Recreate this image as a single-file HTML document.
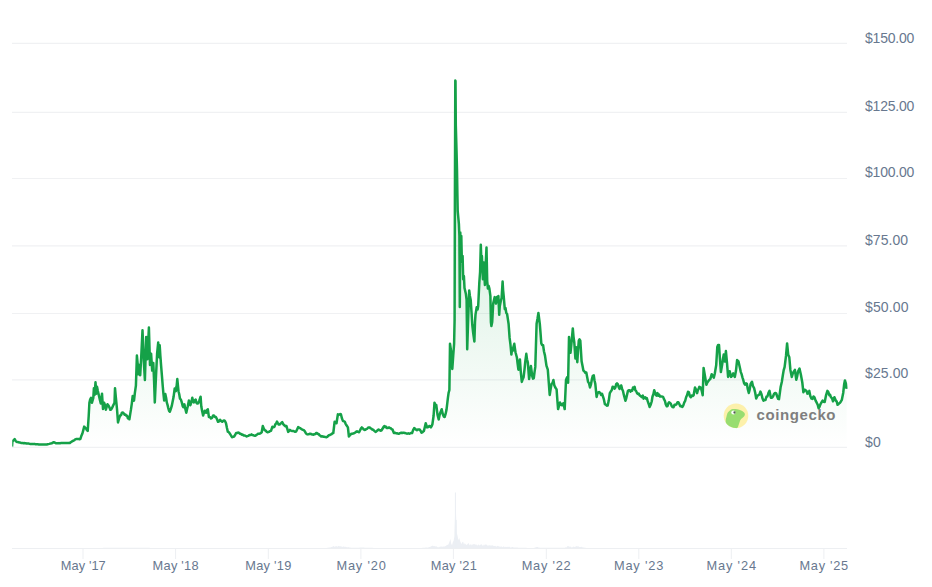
<!DOCTYPE html>
<html><head><meta charset="utf-8">
<style>
html,body{margin:0;padding:0;background:#fff;}
body{width:932px;height:587px;position:relative;overflow:hidden;font-family:"Liberation Sans",sans-serif;}
svg{position:absolute;left:0;top:0;}
.yl{position:absolute;left:865px;font-size:14px;line-height:16px;color:#68788f;white-space:nowrap;}
.xl{position:absolute;top:558px;width:80px;text-align:center;font-size:12.8px;line-height:16px;color:#68788f;white-space:nowrap;}
.cg{position:absolute;left:756.5px;top:405.0px;font-size:15px;line-height:20px;font-weight:bold;color:#7f7f7f;letter-spacing:0.6px;}
</style></head><body>
<svg width="932" height="587" viewBox="0 0 932 587">
<defs>
<linearGradient id="g" x1="0" y1="0" x2="0" y2="1" gradientUnits="userSpaceOnUse" >
<stop offset="0" stop-color="#16a34a" stop-opacity="0.0"/>
</linearGradient>
<linearGradient id="ga" gradientUnits="userSpaceOnUse" x1="0" y1="80" x2="0" y2="447.4">
<stop offset="0" stop-color="#16a34a" stop-opacity="0.26"/>
<stop offset="0.6" stop-color="#16a34a" stop-opacity="0.105"/>
<stop offset="1" stop-color="#16a34a" stop-opacity="0"/>
</linearGradient>
<clipPath id="cp"><rect x="12.2" y="0" width="835.5" height="460"/></clipPath>
</defs>
<g stroke="#f0f1f3" stroke-width="1.1">
<line x1="12" x2="847" y1="43.4" y2="43.4"/><line x1="12" x2="847" y1="112.4" y2="112.4"/><line x1="12" x2="847" y1="178.5" y2="178.5"/><line x1="12" x2="847" y1="245.9" y2="245.9"/><line x1="12" x2="847" y1="313.5" y2="313.5"/><line x1="12" x2="847" y1="379.9" y2="379.9"/><line x1="12" x2="847" y1="447.4" y2="447.4"/>
</g>
<path d="M12.0,446.6 L12.4,441.5 L13.2,440.7 L13.9,439.9 L14.7,439.1 L16.0,441.5 L16.8,441.9 L17.7,442.0 L18.5,442.2 L19.3,442.5 L20.2,442.6 L21.0,442.9 L21.8,443.0 L22.6,443.1 L23.3,443.2 L24.1,443.1 L24.9,443.2 L25.7,443.3 L26.4,443.5 L27.2,443.6 L28.0,443.6 L28.8,443.6 L29.5,443.8 L30.3,443.9 L31.0,443.9 L31.8,443.9 L32.5,443.9 L33.3,443.9 L34.0,444.1 L34.8,444.1 L35.5,444.2 L36.3,444.3 L37.1,444.3 L37.9,444.3 L38.7,444.4 L39.5,444.4 L40.3,444.5 L41.1,444.5 L42.0,444.5 L42.8,444.5 L43.6,444.6 L44.4,444.5 L45.2,444.5 L46.0,444.6 L46.8,444.5 L47.6,444.3 L48.4,444.1 L49.3,443.9 L50.1,443.6 L50.9,443.4 L51.7,443.3 L52.8,442.7 L53.8,442.2 L54.8,442.6 L55.9,443.3 L56.7,443.3 L57.4,443.2 L58.2,443.3 L59.0,443.1 L59.7,443.3 L60.5,443.2 L61.3,442.9 L62.0,443.0 L62.8,443.0 L63.6,443.1 L64.4,443.0 L65.1,443.1 L65.9,443.0 L66.7,442.9 L67.5,443.0 L68.2,443.1 L69.0,442.9 L69.8,443.0 L70.7,442.2 L71.7,441.6 L72.6,441.0 L73.5,440.7 L74.3,440.2 L75.2,439.4 L76.1,439.1 L76.9,439.0 L77.8,438.9 L78.6,438.9 L79.5,439.2 L80.3,439.1 L81.3,436.1 L82.4,433.5 L83.3,430.1 L84.2,426.6 L85.1,427.6 L86.0,428.4 L86.8,430.0 L87.7,430.8 L88.7,416.0 L89.4,402.8 L90.2,399.3 L91.0,397.9 L91.9,402.8 L93.3,398.0 L93.9,388.2 L94.6,395.0 L95.5,382.3 L96.4,393.7 L97.0,386.8 L97.8,390.7 L98.5,393.7 L99.9,400.0 L100.8,403.5 L102.0,393.7 L103.0,409.0 L104.2,402.8 L105.1,405.4 L105.9,409.8 L106.7,406.8 L107.5,404.2 L108.4,405.4 L109.4,407.4 L110.3,409.8 L111.2,409.5 L112.2,407.7 L113.1,405.6 L114.5,402.8 L115.0,388.2 L115.9,397.9 L117.0,409.0 L118.0,422.4 L119.4,417.5 L120.2,415.5 L121.1,415.1 L121.9,412.7 L122.8,412.6 L123.8,413.4 L124.7,414.8 L125.6,414.6 L126.4,415.8 L127.1,415.7 L127.9,418.3 L128.6,417.9 L129.4,419.3 L130.2,414.1 L130.9,409.9 L131.8,403.6 L132.7,395.9 L134.0,400.6 L134.9,392.6 L135.9,385.6 L136.9,355.6 L137.7,364.3 L138.4,374.3 L139.3,365.0 L140.2,375.3 L141.2,357.5 L142.5,330.3 L143.8,361.2 L144.9,380.0 L146.2,336.9 L147.4,359.3 L148.2,342.0 L148.9,327.5 L150.0,365.0 L151.1,353.7 L152.2,370.6 L153.3,363.1 L154.1,381.4 L154.8,402.4 L156.0,376.2 L157.1,353.7 L158.2,342.5 L159.3,357.5 L159.7,345.3 L160.4,356.3 L161.2,366.8 L161.9,375.4 L162.7,385.6 L163.4,393.4 L164.2,400.6 L165.3,394.0 L166.1,397.8 L166.8,402.4 L167.6,405.1 L168.3,408.1 L169.1,411.0 L169.8,411.8 L170.8,409.0 L171.7,406.2 L172.6,401.7 L173.6,396.8 L174.7,388.4 L175.8,391.2 L176.6,386.3 L177.3,379.0 L178.5,391.2 L179.2,394.0 L180.0,398.7 L180.9,399.6 L181.8,402.4 L182.6,405.8 L183.3,407.1 L184.4,404.3 L185.4,409.2 L186.3,412.7 L187.1,408.9 L187.8,406.2 L188.9,400.6 L189.7,402.1 L190.4,405.2 L191.4,402.2 L192.3,397.8 L193.1,401.3 L193.8,402.4 L194.8,400.2 L195.7,399.6 L196.4,402.8 L197.2,403.5 L198.2,403.2 L199.2,400.9 L200.6,396.7 L201.3,406.5 L202.2,411.3 L203.1,415.6 L203.9,413.0 L204.8,410.7 L206.2,412.8 L207.0,410.2 L207.8,409.3 L208.9,417.0 L209.9,416.9 L211.0,418.4 L212.1,417.8 L213.1,415.6 L214.0,415.6 L215.0,416.9 L215.9,417.0 L216.9,419.0 L218.0,421.8 L219.1,421.3 L220.1,419.8 L221.1,421.0 L222.2,421.8 L223.2,420.8 L224.3,420.5 L225.2,421.4 L226.0,423.2 L226.9,427.7 L227.8,431.6 L228.9,432.3 L229.9,433.7 L230.9,435.3 L232.0,437.2 L233.1,436.9 L234.1,436.5 L235.1,435.0 L236.1,433.0 L237.0,433.0 L238.0,432.6 L238.9,432.7 L239.8,433.7 L240.8,433.8 L241.7,434.7 L242.5,434.6 L243.3,435.1 L244.1,435.6 L245.0,435.6 L245.8,436.0 L246.6,436.5 L247.4,436.1 L248.2,435.9 L249.1,435.2 L249.9,435.0 L250.7,435.0 L251.5,434.4 L252.4,435.1 L253.2,435.2 L254.1,435.6 L255.0,435.8 L255.8,435.4 L256.7,434.7 L257.5,434.2 L258.4,433.7 L259.2,433.7 L260.0,433.6 L260.9,432.9 L261.7,432.3 L262.8,426.0 L263.8,428.6 L264.7,430.2 L265.6,430.4 L266.6,431.7 L267.5,432.3 L268.4,431.9 L269.2,431.8 L270.1,431.1 L271.0,430.9 L272.4,426.7 L273.4,427.3 L274.5,426.7 L275.3,424.4 L276.2,423.4 L277.0,421.6 L277.9,423.4 L278.7,424.6 L279.6,424.5 L280.4,423.7 L281.3,423.0 L282.2,422.1 L283.2,424.1 L284.3,425.3 L285.4,426.2 L286.4,426.0 L287.3,428.8 L288.2,431.9 L289.0,431.1 L289.9,429.9 L290.8,430.6 L291.7,430.9 L292.6,430.9 L293.5,431.0 L294.4,431.5 L295.2,431.8 L296.1,431.6 L297.1,429.4 L298.2,427.1 L299.1,427.8 L300.1,428.1 L301.0,428.8 L301.9,429.4 L302.9,429.8 L303.8,430.2 L304.7,431.1 L305.7,432.9 L306.6,434.1 L307.5,434.4 L308.4,434.2 L309.2,434.0 L310.1,433.7 L311.0,433.9 L311.9,434.4 L312.7,434.5 L313.6,434.7 L314.5,434.2 L315.3,434.1 L316.1,433.1 L317.0,433.0 L317.8,433.9 L318.7,434.0 L319.5,435.2 L320.4,435.8 L321.2,436.5 L322.0,436.3 L322.8,436.5 L323.7,436.8 L324.6,436.8 L325.4,437.1 L326.3,437.2 L327.2,436.9 L328.1,436.0 L328.9,435.3 L329.8,435.1 L330.7,434.4 L331.6,434.2 L332.4,433.3 L333.3,433.0 L334.6,421.8 L335.6,422.0 L336.5,423.2 L337.9,414.2 L338.6,415.0 L339.4,414.5 L340.1,414.1 L340.9,414.2 L341.9,418.3 L343.0,421.1 L343.9,421.2 L344.8,421.8 L345.6,423.8 L346.5,425.3 L347.9,427.4 L348.9,436.5 L349.7,435.4 L350.6,434.6 L351.4,433.7 L352.3,433.7 L353.1,433.6 L354.0,433.3 L354.9,432.7 L355.9,431.9 L357.0,431.3 L358.1,431.9 L359.1,432.3 L360.0,430.5 L360.9,428.6 L361.8,427.4 L362.7,428.2 L363.7,429.4 L364.6,429.9 L365.4,429.8 L366.3,429.1 L367.1,428.9 L368.0,427.6 L368.8,427.4 L369.7,427.5 L370.6,428.4 L371.4,428.7 L372.3,429.5 L373.2,429.8 L374.1,430.6 L374.9,431.4 L375.8,431.9 L376.7,431.1 L377.7,430.1 L378.6,429.5 L379.5,430.2 L380.5,430.7 L381.4,430.5 L382.2,429.3 L383.0,427.8 L383.8,426.6 L384.6,426.0 L385.4,427.2 L386.2,426.8 L387.0,428.1 L388.0,428.0 L389.0,427.4 L389.9,428.0 L390.8,428.2 L391.6,429.3 L392.5,429.5 L393.9,433.0 L394.7,432.7 L395.6,433.0 L396.4,433.4 L397.3,433.2 L398.1,433.7 L398.9,433.8 L399.7,433.2 L400.5,433.0 L401.3,432.7 L402.1,433.1 L402.9,432.8 L403.7,432.7 L404.5,433.0 L405.3,433.1 L406.1,433.4 L406.9,433.7 L407.7,433.6 L408.5,433.3 L409.3,433.7 L410.2,433.4 L411.2,433.0 L412.1,433.0 L413.1,430.1 L414.2,428.1 L415.1,428.8 L416.0,429.7 L416.9,430.2 L417.8,429.6 L418.8,429.5 L419.7,429.5 L420.6,430.9 L421.5,432.7 L422.3,432.3 L423.1,431.5 L423.9,430.9 L424.8,427.2 L425.7,423.2 L427.1,427.4 L427.9,427.2 L428.7,426.3 L429.5,426.0 L430.9,427.4 L431.6,426.2 L432.4,424.2 L433.6,415.8 L434.5,402.7 L435.4,405.0 L436.3,405.1 L437.5,414.6 L438.7,419.4 L439.6,415.0 L440.5,412.2 L441.7,409.2 L442.9,414.6 L443.8,416.6 L444.7,417.0 L445.6,413.9 L446.5,409.8 L447.9,397.9 L448.6,392.8 L449.4,390.0 L450.0,343.8 L451.2,352.0 L452.3,368.9 L453.2,356.0 L454.1,343.8 L454.6,320.0 L454.9,200.0 L455.3,80.6 L455.5,81.0 L455.8,125.0 L456.5,150.0 L457.0,170.0 L457.4,195.0 L457.7,211.0 L458.9,224.0 L459.4,236.0 L459.6,270.0 L459.8,306.9 L460.3,232.5 L460.8,250.0 L461.3,236.0 L461.8,258.7 L462.3,262.0 L462.6,256.0 L463.2,279.3 L463.9,276.0 L464.5,288.0 L465.1,290.5 L465.9,294.0 L466.6,299.9 L467.2,349.2 L468.2,318.0 L469.2,290.5 L469.9,296.0 L470.7,299.9 L471.5,312.0 L472.3,325.0 L473.2,333.0 L474.4,341.5 L475.0,322.0 L475.5,314.6 L476.7,307.3 L477.6,309.5 L478.2,306.0 L479.3,283.0 L480.1,271.8 L480.8,244.7 L481.4,262.0 L481.9,256.0 L482.5,270.0 L482.9,279.3 L483.8,262.4 L484.4,276.0 L484.9,284.9 L485.5,268.0 L486.5,247.5 L487.2,281.1 L487.9,288.6 L488.7,286.0 L489.4,288.6 L490.4,296.1 L490.9,322.0 L491.4,326.1 L492.2,322.0 L493.2,303.6 L494.0,300.0 L494.7,297.1 L495.4,301.0 L496.0,303.6 L496.9,297.1 L497.7,300.0 L498.4,296.1 L499.2,314.8 L499.8,306.0 L500.3,303.6 L501.0,300.0 L501.6,298.0 L502.6,281.5 L503.1,290.0 L503.7,296.1 L504.8,309.2 L505.5,308.0 L506.3,313.0 L507.1,314.0 L507.8,318.6 L508.6,324.0 L509.6,337.9 L510.4,344.0 L511.4,354.6 L512.0,349.0 L512.6,351.0 L513.4,347.0 L514.3,343.8 L515.0,349.0 L515.5,352.2 L516.9,357.5 L517.6,363.5 L518.4,369.7 L519.1,365.0 L519.9,359.4 L520.8,372.0 L521.8,381.9 L522.7,379.2 L523.6,377.2 L524.5,369.5 L525.3,361.3 L526.3,353.8 L527.0,359.2 L527.8,362.2 L529.1,379.1 L530.0,373.4 L530.9,365.9 L532.3,376.3 L533.0,378.6 L533.8,378.1 L534.5,372.4 L535.3,366.9 L536.6,323.8 L537.5,318.8 L538.4,312.9 L539.8,323.8 L540.5,332.7 L541.3,343.4 L542.2,345.1 L543.1,345.3 L544.0,351.5 L545.0,355.6 L545.8,361.2 L546.5,365.9 L547.8,369.7 L548.8,383.0 L549.7,395.0 L550.7,388.5 L551.6,383.8 L552.5,383.2 L553.4,380.0 L554.3,385.3 L555.3,387.5 L556.6,389.4 L557.4,400.6 L558.1,409.1 L559.0,405.9 L560.0,402.5 L561.0,404.7 L561.9,405.3 L562.6,403.9 L563.4,403.4 L564.7,409.1 L566.0,380.0 L567.1,377.2 L568.1,382.8 L569.0,336.9 L569.8,346.2 L570.5,352.8 L571.8,339.7 L572.8,328.4 L573.5,336.6 L574.3,342.5 L575.4,358.4 L576.1,347.2 L577.3,362.2 L578.0,350.9 L578.8,340.6 L579.5,339.3 L580.3,340.6 L581.6,361.3 L582.5,365.8 L583.4,370.6 L584.4,371.4 L585.3,372.7 L586.3,372.5 L587.2,377.2 L588.1,381.9 L589.0,383.2 L590.0,387.5 L591.0,384.3 L591.9,379.1 L592.8,375.8 L593.8,375.3 L594.5,380.5 L595.3,383.8 L596.6,396.9 L597.5,393.5 L598.4,392.2 L599.3,392.1 L600.3,393.1 L601.1,395.0 L602.0,393.8 L602.8,395.9 L603.8,399.1 L604.9,404.2 L605.8,404.7 L606.8,405.7 L607.7,405.6 L608.8,400.3 L609.8,393.1 L610.7,391.6 L611.7,390.3 L612.6,386.8 L613.5,387.0 L614.5,388.7 L615.4,387.5 L616.2,384.1 L617.0,383.3 L617.9,384.3 L618.7,387.1 L619.6,388.9 L620.4,386.5 L621.2,385.4 L622.1,388.9 L623.0,391.0 L623.8,394.7 L624.6,397.6 L625.4,400.8 L626.2,398.6 L627.1,394.5 L627.9,391.0 L628.8,390.2 L629.6,390.3 L630.5,391.6 L631.4,390.3 L632.2,390.7 L633.0,387.6 L633.8,388.8 L634.6,386.8 L635.4,390.4 L636.2,391.1 L637.0,393.1 L637.8,394.0 L638.7,393.6 L639.5,395.3 L640.4,395.9 L641.2,396.6 L642.0,397.1 L642.8,395.6 L643.6,398.6 L644.4,397.4 L645.2,397.3 L646.0,398.7 L646.8,398.0 L647.7,401.2 L648.7,404.0 L649.6,407.0 L650.7,404.7 L651.7,401.5 L652.5,396.5 L653.4,394.2 L654.2,390.3 L655.0,392.5 L655.9,395.2 L656.7,395.6 L657.5,393.1 L658.4,395.6 L659.2,394.7 L660.1,396.6 L661.2,396.5 L662.2,396.6 L663.1,396.9 L664.0,399.2 L664.9,400.8 L665.8,404.4 L666.8,406.3 L667.6,406.0 L668.3,403.5 L669.1,402.2 L670.0,402.9 L670.9,403.8 L671.7,406.1 L672.6,407.0 L673.5,407.3 L674.5,404.7 L675.4,404.9 L676.5,404.3 L677.5,402.2 L678.4,402.3 L679.4,404.2 L680.3,406.3 L681.3,406.0 L682.4,407.0 L683.3,405.4 L684.3,402.4 L685.2,400.8 L686.1,397.3 L687.1,395.1 L688.0,391.7 L688.9,392.3 L689.9,396.2 L690.8,397.3 L691.7,395.5 L692.7,395.9 L693.6,395.2 L695.0,387.5 L696.0,389.5 L697.1,393.1 L697.9,390.0 L698.6,389.0 L699.4,386.8 L700.8,387.5 L701.8,391.1 L702.7,395.2 L703.6,367.9 L705.0,376.3 L706.4,384.7 L707.3,382.6 L708.2,381.2 L709.2,379.9 L710.3,379.1 L711.7,374.2 L712.8,376.0 L713.8,377.7 L714.8,373.5 L716.2,365.1 L717.3,347.0 L718.1,344.9 L719.0,344.9 L719.8,356.8 L720.9,372.1 L722.2,364.4 L723.0,358.6 L723.7,354.6 L724.8,361.5 L725.9,351.1 L727.0,362.9 L728.1,376.9 L728.9,374.5 L729.7,371.3 L731.1,376.9 L732.2,375.6 L733.2,373.4 L734.0,375.2 L734.8,376.9 L736.0,370.6 L737.1,360.1 L738.5,361.5 L739.9,367.8 L740.8,372.1 L741.6,374.1 L742.4,377.3 L743.2,379.7 L744.1,383.3 L745.0,384.6 L746.0,383.4 L746.9,383.9 L747.8,389.2 L748.8,393.0 L749.7,389.4 L750.6,383.9 L752.0,381.8 L753.0,386.2 L754.1,388.1 L755.2,392.7 L756.2,398.5 L757.2,396.2 L758.3,395.1 L759.3,394.7 L760.4,391.6 L761.5,394.2 L762.5,398.5 L763.5,400.6 L764.6,399.9 L765.5,399.9 L766.5,396.5 L767.4,396.5 L768.5,392.9 L769.5,390.9 L770.9,397.8 L772.0,397.8 L773.0,396.5 L774.0,394.0 L775.1,393.0 L776.2,393.5 L777.2,396.5 L778.1,398.8 L779.0,399.2 L779.9,392.7 L780.7,386.7 L781.8,382.0 L782.8,375.5 L783.7,370.1 L784.6,367.1 L786.0,355.9 L787.1,343.4 L788.2,354.6 L789.3,357.3 L790.4,369.9 L791.8,376.9 L792.6,374.1 L793.5,372.0 L794.9,369.9 L796.3,379.7 L797.2,376.1 L798.1,371.3 L799.5,368.5 L800.9,374.8 L802.3,382.5 L803.4,392.3 L804.5,389.7 L805.5,390.2 L806.5,391.0 L807.5,393.7 L808.4,392.9 L809.3,390.9 L810.3,396.0 L811.4,398.5 L812.5,398.9 L813.5,396.5 L814.5,397.4 L815.6,400.6 L816.7,402.7 L817.7,404.8 L818.6,408.3 L819.5,406.8 L820.5,404.1 L821.5,402.4 L822.6,400.6 L823.7,401.8 L824.7,402.0 L826.1,395.1 L827.4,390.9 L828.3,392.0 L829.3,395.1 L830.1,394.8 L830.9,397.2 L832.0,398.1 L833.0,401.3 L834.4,397.2 L835.8,400.6 L836.7,401.5 L837.6,404.8 L838.4,404.2 L839.2,403.4 L840.0,402.7 L840.9,401.5 L841.8,399.9 L843.2,393.0 L844.2,383.9 L844.9,380.4 L846.0,383.9 L846.6,388.8 L846.6,447.4 L12.0,447.4 Z" fill="url(#ga)" stroke="none"/>
<path d="M12.0,446.6 L12.4,441.5 L13.2,440.7 L13.9,439.9 L14.7,439.1 L16.0,441.5 L16.8,441.9 L17.7,442.0 L18.5,442.2 L19.3,442.5 L20.2,442.6 L21.0,442.9 L21.8,443.0 L22.6,443.1 L23.3,443.2 L24.1,443.1 L24.9,443.2 L25.7,443.3 L26.4,443.5 L27.2,443.6 L28.0,443.6 L28.8,443.6 L29.5,443.8 L30.3,443.9 L31.0,443.9 L31.8,443.9 L32.5,443.9 L33.3,443.9 L34.0,444.1 L34.8,444.1 L35.5,444.2 L36.3,444.3 L37.1,444.3 L37.9,444.3 L38.7,444.4 L39.5,444.4 L40.3,444.5 L41.1,444.5 L42.0,444.5 L42.8,444.5 L43.6,444.6 L44.4,444.5 L45.2,444.5 L46.0,444.6 L46.8,444.5 L47.6,444.3 L48.4,444.1 L49.3,443.9 L50.1,443.6 L50.9,443.4 L51.7,443.3 L52.8,442.7 L53.8,442.2 L54.8,442.6 L55.9,443.3 L56.7,443.3 L57.4,443.2 L58.2,443.3 L59.0,443.1 L59.7,443.3 L60.5,443.2 L61.3,442.9 L62.0,443.0 L62.8,443.0 L63.6,443.1 L64.4,443.0 L65.1,443.1 L65.9,443.0 L66.7,442.9 L67.5,443.0 L68.2,443.1 L69.0,442.9 L69.8,443.0 L70.7,442.2 L71.7,441.6 L72.6,441.0 L73.5,440.7 L74.3,440.2 L75.2,439.4 L76.1,439.1 L76.9,439.0 L77.8,438.9 L78.6,438.9 L79.5,439.2 L80.3,439.1 L81.3,436.1 L82.4,433.5 L83.3,430.1 L84.2,426.6 L85.1,427.6 L86.0,428.4 L86.8,430.0 L87.7,430.8 L88.7,416.0 L89.4,402.8 L90.2,399.3 L91.0,397.9 L91.9,402.8 L93.3,398.0 L93.9,388.2 L94.6,395.0 L95.5,382.3 L96.4,393.7 L97.0,386.8 L97.8,390.7 L98.5,393.7 L99.9,400.0 L100.8,403.5 L102.0,393.7 L103.0,409.0 L104.2,402.8 L105.1,405.4 L105.9,409.8 L106.7,406.8 L107.5,404.2 L108.4,405.4 L109.4,407.4 L110.3,409.8 L111.2,409.5 L112.2,407.7 L113.1,405.6 L114.5,402.8 L115.0,388.2 L115.9,397.9 L117.0,409.0 L118.0,422.4 L119.4,417.5 L120.2,415.5 L121.1,415.1 L121.9,412.7 L122.8,412.6 L123.8,413.4 L124.7,414.8 L125.6,414.6 L126.4,415.8 L127.1,415.7 L127.9,418.3 L128.6,417.9 L129.4,419.3 L130.2,414.1 L130.9,409.9 L131.8,403.6 L132.7,395.9 L134.0,400.6 L134.9,392.6 L135.9,385.6 L136.9,355.6 L137.7,364.3 L138.4,374.3 L139.3,365.0 L140.2,375.3 L141.2,357.5 L142.5,330.3 L143.8,361.2 L144.9,380.0 L146.2,336.9 L147.4,359.3 L148.2,342.0 L148.9,327.5 L150.0,365.0 L151.1,353.7 L152.2,370.6 L153.3,363.1 L154.1,381.4 L154.8,402.4 L156.0,376.2 L157.1,353.7 L158.2,342.5 L159.3,357.5 L159.7,345.3 L160.4,356.3 L161.2,366.8 L161.9,375.4 L162.7,385.6 L163.4,393.4 L164.2,400.6 L165.3,394.0 L166.1,397.8 L166.8,402.4 L167.6,405.1 L168.3,408.1 L169.1,411.0 L169.8,411.8 L170.8,409.0 L171.7,406.2 L172.6,401.7 L173.6,396.8 L174.7,388.4 L175.8,391.2 L176.6,386.3 L177.3,379.0 L178.5,391.2 L179.2,394.0 L180.0,398.7 L180.9,399.6 L181.8,402.4 L182.6,405.8 L183.3,407.1 L184.4,404.3 L185.4,409.2 L186.3,412.7 L187.1,408.9 L187.8,406.2 L188.9,400.6 L189.7,402.1 L190.4,405.2 L191.4,402.2 L192.3,397.8 L193.1,401.3 L193.8,402.4 L194.8,400.2 L195.7,399.6 L196.4,402.8 L197.2,403.5 L198.2,403.2 L199.2,400.9 L200.6,396.7 L201.3,406.5 L202.2,411.3 L203.1,415.6 L203.9,413.0 L204.8,410.7 L206.2,412.8 L207.0,410.2 L207.8,409.3 L208.9,417.0 L209.9,416.9 L211.0,418.4 L212.1,417.8 L213.1,415.6 L214.0,415.6 L215.0,416.9 L215.9,417.0 L216.9,419.0 L218.0,421.8 L219.1,421.3 L220.1,419.8 L221.1,421.0 L222.2,421.8 L223.2,420.8 L224.3,420.5 L225.2,421.4 L226.0,423.2 L226.9,427.7 L227.8,431.6 L228.9,432.3 L229.9,433.7 L230.9,435.3 L232.0,437.2 L233.1,436.9 L234.1,436.5 L235.1,435.0 L236.1,433.0 L237.0,433.0 L238.0,432.6 L238.9,432.7 L239.8,433.7 L240.8,433.8 L241.7,434.7 L242.5,434.6 L243.3,435.1 L244.1,435.6 L245.0,435.6 L245.8,436.0 L246.6,436.5 L247.4,436.1 L248.2,435.9 L249.1,435.2 L249.9,435.0 L250.7,435.0 L251.5,434.4 L252.4,435.1 L253.2,435.2 L254.1,435.6 L255.0,435.8 L255.8,435.4 L256.7,434.7 L257.5,434.2 L258.4,433.7 L259.2,433.7 L260.0,433.6 L260.9,432.9 L261.7,432.3 L262.8,426.0 L263.8,428.6 L264.7,430.2 L265.6,430.4 L266.6,431.7 L267.5,432.3 L268.4,431.9 L269.2,431.8 L270.1,431.1 L271.0,430.9 L272.4,426.7 L273.4,427.3 L274.5,426.7 L275.3,424.4 L276.2,423.4 L277.0,421.6 L277.9,423.4 L278.7,424.6 L279.6,424.5 L280.4,423.7 L281.3,423.0 L282.2,422.1 L283.2,424.1 L284.3,425.3 L285.4,426.2 L286.4,426.0 L287.3,428.8 L288.2,431.9 L289.0,431.1 L289.9,429.9 L290.8,430.6 L291.7,430.9 L292.6,430.9 L293.5,431.0 L294.4,431.5 L295.2,431.8 L296.1,431.6 L297.1,429.4 L298.2,427.1 L299.1,427.8 L300.1,428.1 L301.0,428.8 L301.9,429.4 L302.9,429.8 L303.8,430.2 L304.7,431.1 L305.7,432.9 L306.6,434.1 L307.5,434.4 L308.4,434.2 L309.2,434.0 L310.1,433.7 L311.0,433.9 L311.9,434.4 L312.7,434.5 L313.6,434.7 L314.5,434.2 L315.3,434.1 L316.1,433.1 L317.0,433.0 L317.8,433.9 L318.7,434.0 L319.5,435.2 L320.4,435.8 L321.2,436.5 L322.0,436.3 L322.8,436.5 L323.7,436.8 L324.6,436.8 L325.4,437.1 L326.3,437.2 L327.2,436.9 L328.1,436.0 L328.9,435.3 L329.8,435.1 L330.7,434.4 L331.6,434.2 L332.4,433.3 L333.3,433.0 L334.6,421.8 L335.6,422.0 L336.5,423.2 L337.9,414.2 L338.6,415.0 L339.4,414.5 L340.1,414.1 L340.9,414.2 L341.9,418.3 L343.0,421.1 L343.9,421.2 L344.8,421.8 L345.6,423.8 L346.5,425.3 L347.9,427.4 L348.9,436.5 L349.7,435.4 L350.6,434.6 L351.4,433.7 L352.3,433.7 L353.1,433.6 L354.0,433.3 L354.9,432.7 L355.9,431.9 L357.0,431.3 L358.1,431.9 L359.1,432.3 L360.0,430.5 L360.9,428.6 L361.8,427.4 L362.7,428.2 L363.7,429.4 L364.6,429.9 L365.4,429.8 L366.3,429.1 L367.1,428.9 L368.0,427.6 L368.8,427.4 L369.7,427.5 L370.6,428.4 L371.4,428.7 L372.3,429.5 L373.2,429.8 L374.1,430.6 L374.9,431.4 L375.8,431.9 L376.7,431.1 L377.7,430.1 L378.6,429.5 L379.5,430.2 L380.5,430.7 L381.4,430.5 L382.2,429.3 L383.0,427.8 L383.8,426.6 L384.6,426.0 L385.4,427.2 L386.2,426.8 L387.0,428.1 L388.0,428.0 L389.0,427.4 L389.9,428.0 L390.8,428.2 L391.6,429.3 L392.5,429.5 L393.9,433.0 L394.7,432.7 L395.6,433.0 L396.4,433.4 L397.3,433.2 L398.1,433.7 L398.9,433.8 L399.7,433.2 L400.5,433.0 L401.3,432.7 L402.1,433.1 L402.9,432.8 L403.7,432.7 L404.5,433.0 L405.3,433.1 L406.1,433.4 L406.9,433.7 L407.7,433.6 L408.5,433.3 L409.3,433.7 L410.2,433.4 L411.2,433.0 L412.1,433.0 L413.1,430.1 L414.2,428.1 L415.1,428.8 L416.0,429.7 L416.9,430.2 L417.8,429.6 L418.8,429.5 L419.7,429.5 L420.6,430.9 L421.5,432.7 L422.3,432.3 L423.1,431.5 L423.9,430.9 L424.8,427.2 L425.7,423.2 L427.1,427.4 L427.9,427.2 L428.7,426.3 L429.5,426.0 L430.9,427.4 L431.6,426.2 L432.4,424.2 L433.6,415.8 L434.5,402.7 L435.4,405.0 L436.3,405.1 L437.5,414.6 L438.7,419.4 L439.6,415.0 L440.5,412.2 L441.7,409.2 L442.9,414.6 L443.8,416.6 L444.7,417.0 L445.6,413.9 L446.5,409.8 L447.9,397.9 L448.6,392.8 L449.4,390.0 L450.0,343.8 L451.2,352.0 L452.3,368.9 L453.2,356.0 L454.1,343.8 L454.6,320.0 L454.9,200.0 L455.3,80.6 L455.5,81.0 L455.8,125.0 L456.5,150.0 L457.0,170.0 L457.4,195.0 L457.7,211.0 L458.9,224.0 L459.4,236.0 L459.6,270.0 L459.8,306.9 L460.3,232.5 L460.8,250.0 L461.3,236.0 L461.8,258.7 L462.3,262.0 L462.6,256.0 L463.2,279.3 L463.9,276.0 L464.5,288.0 L465.1,290.5 L465.9,294.0 L466.6,299.9 L467.2,349.2 L468.2,318.0 L469.2,290.5 L469.9,296.0 L470.7,299.9 L471.5,312.0 L472.3,325.0 L473.2,333.0 L474.4,341.5 L475.0,322.0 L475.5,314.6 L476.7,307.3 L477.6,309.5 L478.2,306.0 L479.3,283.0 L480.1,271.8 L480.8,244.7 L481.4,262.0 L481.9,256.0 L482.5,270.0 L482.9,279.3 L483.8,262.4 L484.4,276.0 L484.9,284.9 L485.5,268.0 L486.5,247.5 L487.2,281.1 L487.9,288.6 L488.7,286.0 L489.4,288.6 L490.4,296.1 L490.9,322.0 L491.4,326.1 L492.2,322.0 L493.2,303.6 L494.0,300.0 L494.7,297.1 L495.4,301.0 L496.0,303.6 L496.9,297.1 L497.7,300.0 L498.4,296.1 L499.2,314.8 L499.8,306.0 L500.3,303.6 L501.0,300.0 L501.6,298.0 L502.6,281.5 L503.1,290.0 L503.7,296.1 L504.8,309.2 L505.5,308.0 L506.3,313.0 L507.1,314.0 L507.8,318.6 L508.6,324.0 L509.6,337.9 L510.4,344.0 L511.4,354.6 L512.0,349.0 L512.6,351.0 L513.4,347.0 L514.3,343.8 L515.0,349.0 L515.5,352.2 L516.9,357.5 L517.6,363.5 L518.4,369.7 L519.1,365.0 L519.9,359.4 L520.8,372.0 L521.8,381.9 L522.7,379.2 L523.6,377.2 L524.5,369.5 L525.3,361.3 L526.3,353.8 L527.0,359.2 L527.8,362.2 L529.1,379.1 L530.0,373.4 L530.9,365.9 L532.3,376.3 L533.0,378.6 L533.8,378.1 L534.5,372.4 L535.3,366.9 L536.6,323.8 L537.5,318.8 L538.4,312.9 L539.8,323.8 L540.5,332.7 L541.3,343.4 L542.2,345.1 L543.1,345.3 L544.0,351.5 L545.0,355.6 L545.8,361.2 L546.5,365.9 L547.8,369.7 L548.8,383.0 L549.7,395.0 L550.7,388.5 L551.6,383.8 L552.5,383.2 L553.4,380.0 L554.3,385.3 L555.3,387.5 L556.6,389.4 L557.4,400.6 L558.1,409.1 L559.0,405.9 L560.0,402.5 L561.0,404.7 L561.9,405.3 L562.6,403.9 L563.4,403.4 L564.7,409.1 L566.0,380.0 L567.1,377.2 L568.1,382.8 L569.0,336.9 L569.8,346.2 L570.5,352.8 L571.8,339.7 L572.8,328.4 L573.5,336.6 L574.3,342.5 L575.4,358.4 L576.1,347.2 L577.3,362.2 L578.0,350.9 L578.8,340.6 L579.5,339.3 L580.3,340.6 L581.6,361.3 L582.5,365.8 L583.4,370.6 L584.4,371.4 L585.3,372.7 L586.3,372.5 L587.2,377.2 L588.1,381.9 L589.0,383.2 L590.0,387.5 L591.0,384.3 L591.9,379.1 L592.8,375.8 L593.8,375.3 L594.5,380.5 L595.3,383.8 L596.6,396.9 L597.5,393.5 L598.4,392.2 L599.3,392.1 L600.3,393.1 L601.1,395.0 L602.0,393.8 L602.8,395.9 L603.8,399.1 L604.9,404.2 L605.8,404.7 L606.8,405.7 L607.7,405.6 L608.8,400.3 L609.8,393.1 L610.7,391.6 L611.7,390.3 L612.6,386.8 L613.5,387.0 L614.5,388.7 L615.4,387.5 L616.2,384.1 L617.0,383.3 L617.9,384.3 L618.7,387.1 L619.6,388.9 L620.4,386.5 L621.2,385.4 L622.1,388.9 L623.0,391.0 L623.8,394.7 L624.6,397.6 L625.4,400.8 L626.2,398.6 L627.1,394.5 L627.9,391.0 L628.8,390.2 L629.6,390.3 L630.5,391.6 L631.4,390.3 L632.2,390.7 L633.0,387.6 L633.8,388.8 L634.6,386.8 L635.4,390.4 L636.2,391.1 L637.0,393.1 L637.8,394.0 L638.7,393.6 L639.5,395.3 L640.4,395.9 L641.2,396.6 L642.0,397.1 L642.8,395.6 L643.6,398.6 L644.4,397.4 L645.2,397.3 L646.0,398.7 L646.8,398.0 L647.7,401.2 L648.7,404.0 L649.6,407.0 L650.7,404.7 L651.7,401.5 L652.5,396.5 L653.4,394.2 L654.2,390.3 L655.0,392.5 L655.9,395.2 L656.7,395.6 L657.5,393.1 L658.4,395.6 L659.2,394.7 L660.1,396.6 L661.2,396.5 L662.2,396.6 L663.1,396.9 L664.0,399.2 L664.9,400.8 L665.8,404.4 L666.8,406.3 L667.6,406.0 L668.3,403.5 L669.1,402.2 L670.0,402.9 L670.9,403.8 L671.7,406.1 L672.6,407.0 L673.5,407.3 L674.5,404.7 L675.4,404.9 L676.5,404.3 L677.5,402.2 L678.4,402.3 L679.4,404.2 L680.3,406.3 L681.3,406.0 L682.4,407.0 L683.3,405.4 L684.3,402.4 L685.2,400.8 L686.1,397.3 L687.1,395.1 L688.0,391.7 L688.9,392.3 L689.9,396.2 L690.8,397.3 L691.7,395.5 L692.7,395.9 L693.6,395.2 L695.0,387.5 L696.0,389.5 L697.1,393.1 L697.9,390.0 L698.6,389.0 L699.4,386.8 L700.8,387.5 L701.8,391.1 L702.7,395.2 L703.6,367.9 L705.0,376.3 L706.4,384.7 L707.3,382.6 L708.2,381.2 L709.2,379.9 L710.3,379.1 L711.7,374.2 L712.8,376.0 L713.8,377.7 L714.8,373.5 L716.2,365.1 L717.3,347.0 L718.1,344.9 L719.0,344.9 L719.8,356.8 L720.9,372.1 L722.2,364.4 L723.0,358.6 L723.7,354.6 L724.8,361.5 L725.9,351.1 L727.0,362.9 L728.1,376.9 L728.9,374.5 L729.7,371.3 L731.1,376.9 L732.2,375.6 L733.2,373.4 L734.0,375.2 L734.8,376.9 L736.0,370.6 L737.1,360.1 L738.5,361.5 L739.9,367.8 L740.8,372.1 L741.6,374.1 L742.4,377.3 L743.2,379.7 L744.1,383.3 L745.0,384.6 L746.0,383.4 L746.9,383.9 L747.8,389.2 L748.8,393.0 L749.7,389.4 L750.6,383.9 L752.0,381.8 L753.0,386.2 L754.1,388.1 L755.2,392.7 L756.2,398.5 L757.2,396.2 L758.3,395.1 L759.3,394.7 L760.4,391.6 L761.5,394.2 L762.5,398.5 L763.5,400.6 L764.6,399.9 L765.5,399.9 L766.5,396.5 L767.4,396.5 L768.5,392.9 L769.5,390.9 L770.9,397.8 L772.0,397.8 L773.0,396.5 L774.0,394.0 L775.1,393.0 L776.2,393.5 L777.2,396.5 L778.1,398.8 L779.0,399.2 L779.9,392.7 L780.7,386.7 L781.8,382.0 L782.8,375.5 L783.7,370.1 L784.6,367.1 L786.0,355.9 L787.1,343.4 L788.2,354.6 L789.3,357.3 L790.4,369.9 L791.8,376.9 L792.6,374.1 L793.5,372.0 L794.9,369.9 L796.3,379.7 L797.2,376.1 L798.1,371.3 L799.5,368.5 L800.9,374.8 L802.3,382.5 L803.4,392.3 L804.5,389.7 L805.5,390.2 L806.5,391.0 L807.5,393.7 L808.4,392.9 L809.3,390.9 L810.3,396.0 L811.4,398.5 L812.5,398.9 L813.5,396.5 L814.5,397.4 L815.6,400.6 L816.7,402.7 L817.7,404.8 L818.6,408.3 L819.5,406.8 L820.5,404.1 L821.5,402.4 L822.6,400.6 L823.7,401.8 L824.7,402.0 L826.1,395.1 L827.4,390.9 L828.3,392.0 L829.3,395.1 L830.1,394.8 L830.9,397.2 L832.0,398.1 L833.0,401.3 L834.4,397.2 L835.8,400.6 L836.7,401.5 L837.6,404.8 L838.4,404.2 L839.2,403.4 L840.0,402.7 L840.9,401.5 L841.8,399.9 L843.2,393.0 L844.2,383.9 L844.9,380.4 L846.0,383.9 L846.6,388.8" fill="none" stroke="#15a148" stroke-width="2.5" stroke-linejoin="round" stroke-linecap="butt" clip-path="url(#cp)"/>
<g fill="#eceff4"><path d="M12,548.5 L12.0,548.2 L12.8,548.2 L13.6,548.2 L14.4,548.2 L15.2,548.2 L16.0,548.2 L16.8,548.2 L17.6,548.2 L18.4,548.2 L19.2,548.2 L20.0,548.2 L20.8,548.2 L21.6,548.2 L22.4,548.2 L23.2,548.2 L24.0,548.2 L24.8,548.2 L25.6,548.2 L26.4,548.2 L27.2,548.2 L28.0,548.2 L28.8,548.2 L29.6,548.2 L30.4,548.2 L31.2,548.2 L32.0,548.2 L32.8,548.2 L33.6,548.2 L34.4,548.2 L35.2,548.2 L36.0,548.2 L36.8,548.2 L37.6,548.2 L38.4,548.2 L39.2,548.2 L40.0,548.2 L40.8,548.2 L41.6,548.2 L42.4,548.2 L43.2,548.2 L44.0,548.2 L44.8,548.2 L45.6,548.2 L46.4,548.2 L47.2,548.2 L48.0,548.2 L48.8,548.2 L49.6,548.2 L50.4,548.2 L51.2,548.2 L52.0,548.2 L52.8,548.2 L53.6,548.2 L54.4,548.2 L55.2,548.2 L56.0,548.2 L56.8,548.2 L57.6,548.2 L58.4,548.2 L59.2,548.2 L60.0,548.2 L60.8,548.2 L61.6,548.2 L62.4,548.2 L63.2,548.2 L64.0,548.2 L64.8,548.2 L65.6,548.2 L66.4,548.2 L67.2,548.2 L68.0,548.2 L68.8,548.2 L69.6,548.2 L70.4,548.2 L71.2,548.2 L72.0,548.2 L72.8,548.2 L73.6,548.2 L74.4,548.2 L75.2,548.2 L76.0,548.2 L76.8,548.2 L77.6,548.2 L78.4,548.2 L79.2,548.2 L80.0,548.2 L80.8,548.2 L81.6,548.2 L82.4,548.1 L83.2,548.1 L84.0,548.1 L84.8,548.1 L85.6,548.0 L86.4,548.0 L87.2,548.0 L88.0,548.0 L88.8,547.9 L89.6,547.9 L90.4,547.9 L91.2,547.9 L92.0,547.9 L92.8,547.9 L93.6,547.9 L94.4,547.9 L95.2,547.9 L96.0,547.9 L96.8,547.9 L97.6,547.9 L98.4,547.9 L99.2,547.9 L100.0,547.9 L100.8,547.9 L101.6,547.9 L102.4,547.9 L103.2,547.8 L104.0,547.8 L104.8,547.8 L105.6,547.8 L106.4,547.8 L107.2,547.8 L108.0,547.8 L108.8,547.8 L109.6,547.8 L110.4,547.8 L111.2,547.8 L112.0,547.8 L112.8,547.8 L113.6,547.8 L114.4,547.8 L115.2,547.8 L116.0,547.8 L116.8,547.8 L117.6,547.8 L118.4,547.8 L119.2,547.8 L120.0,547.8 L120.8,547.8 L121.6,547.8 L122.4,547.8 L123.2,547.8 L124.0,547.8 L124.8,547.8 L125.6,547.8 L126.4,547.8 L127.2,547.8 L128.0,547.7 L128.8,547.7 L129.6,547.7 L130.4,547.7 L131.2,547.7 L132.0,547.7 L132.8,547.7 L133.6,547.7 L134.4,547.7 L135.2,547.7 L136.0,547.7 L136.8,547.7 L137.6,547.7 L138.4,547.7 L139.2,547.7 L140.0,547.7 L140.8,547.7 L141.6,547.7 L142.4,547.7 L143.2,547.7 L144.0,547.8 L144.8,547.8 L145.6,547.8 L146.4,547.8 L147.2,547.8 L148.0,547.8 L148.8,547.8 L149.6,547.8 L150.4,547.9 L151.2,547.9 L152.0,547.9 L152.8,547.9 L153.6,547.9 L154.4,547.9 L155.2,547.9 L156.0,547.9 L156.8,548.0 L157.6,548.0 L158.4,548.0 L159.2,548.0 L160.0,548.0 L160.8,548.0 L161.6,548.0 L162.4,548.0 L163.2,548.0 L164.0,548.0 L164.8,548.0 L165.6,548.0 L166.4,548.0 L167.2,548.0 L168.0,548.0 L168.8,548.0 L169.6,548.0 L170.4,548.0 L171.2,548.0 L172.0,548.0 L172.8,548.0 L173.6,548.0 L174.4,548.0 L175.2,548.0 L176.0,548.0 L176.8,548.0 L177.6,548.0 L178.4,548.0 L179.2,548.0 L180.0,548.0 L180.8,548.0 L181.6,548.0 L182.4,548.0 L183.2,548.0 L184.0,548.0 L184.8,548.0 L185.6,548.0 L186.4,548.0 L187.2,548.0 L188.0,548.0 L188.8,548.0 L189.6,548.0 L190.4,548.0 L191.2,548.0 L192.0,548.0 L192.8,548.0 L193.6,548.0 L194.4,548.0 L195.2,548.0 L196.0,548.0 L196.8,548.0 L197.6,548.0 L198.4,548.0 L199.2,548.0 L200.0,548.0 L200.8,548.0 L201.6,548.0 L202.4,548.0 L203.2,548.0 L204.0,548.0 L204.8,548.0 L205.6,548.0 L206.4,548.0 L207.2,548.0 L208.0,548.0 L208.8,548.0 L209.6,548.0 L210.4,548.0 L211.2,548.0 L212.0,548.0 L212.8,548.0 L213.6,548.0 L214.4,548.0 L215.2,548.0 L216.0,548.0 L216.8,548.0 L217.6,548.0 L218.4,548.0 L219.2,548.0 L220.0,548.0 L220.8,548.0 L221.6,548.0 L222.4,548.0 L223.2,548.0 L224.0,548.0 L224.8,548.0 L225.6,548.0 L226.4,548.0 L227.2,548.0 L228.0,548.0 L228.8,548.0 L229.6,548.0 L230.4,548.0 L231.2,548.0 L232.0,548.0 L232.8,548.0 L233.6,548.0 L234.4,548.0 L235.2,548.0 L236.0,548.0 L236.8,548.0 L237.6,548.0 L238.4,548.0 L239.2,548.0 L240.0,548.0 L240.8,548.0 L241.6,548.0 L242.4,548.0 L243.2,548.1 L244.0,548.1 L244.8,548.1 L245.6,548.1 L246.4,548.1 L247.2,548.1 L248.0,548.1 L248.8,548.1 L249.6,548.1 L250.4,548.1 L251.2,548.1 L252.0,548.1 L252.8,548.1 L253.6,548.1 L254.4,548.1 L255.2,548.1 L256.0,548.1 L256.8,548.1 L257.6,548.1 L258.4,548.1 L259.2,548.1 L260.0,548.1 L260.8,548.1 L261.6,548.1 L262.4,548.1 L263.2,548.1 L264.0,548.1 L264.8,548.1 L265.6,548.1 L266.4,548.1 L267.2,548.1 L268.0,548.1 L268.8,548.1 L269.6,548.1 L270.4,548.1 L271.2,548.1 L272.0,548.1 L272.8,548.1 L273.6,548.1 L274.4,548.1 L275.2,548.1 L276.0,548.1 L276.8,548.1 L277.6,548.1 L278.4,548.1 L279.2,548.1 L280.0,548.1 L280.8,548.1 L281.6,548.1 L282.4,548.1 L283.2,548.1 L284.0,548.1 L284.8,548.1 L285.6,548.1 L286.4,548.1 L287.2,548.1 L288.0,548.1 L288.8,548.1 L289.6,548.1 L290.4,548.1 L291.2,548.1 L292.0,548.1 L292.8,548.1 L293.6,548.1 L294.4,548.1 L295.2,548.1 L296.0,548.1 L296.8,548.1 L297.6,548.1 L298.4,548.1 L299.2,548.1 L300.0,548.1 L300.8,548.1 L301.6,548.1 L302.4,548.1 L303.2,548.1 L304.0,548.1 L304.8,548.1 L305.6,548.1 L306.4,548.1 L307.2,548.1 L308.0,548.1 L308.8,548.1 L309.6,548.1 L310.4,548.1 L311.2,548.1 L312.0,548.1 L312.8,548.1 L313.6,548.1 L314.4,548.1 L315.2,548.1 L316.0,548.1 L316.8,548.1 L317.6,548.1 L318.4,548.1 L319.2,548.1 L320.0,548.1 L320.8,548.1 L321.6,548.1 L322.4,548.1 L323.2,548.1 L324.0,548.1 L324.8,548.1 L325.6,548.0 L326.4,547.9 L327.2,547.8 L328.0,547.7 L328.8,547.6 L329.6,547.5 L330.4,547.6 L331.2,547.1 L332.0,547.0 L332.8,546.4 L333.6,546.1 L334.4,546.7 L335.2,546.8 L336.0,545.8 L336.8,546.6 L337.6,546.7 L338.4,545.7 L339.2,546.5 L340.0,546.1 L340.8,546.6 L341.6,546.5 L342.4,547.1 L343.2,546.6 L344.0,546.5 L344.8,546.9 L345.6,546.8 L346.4,546.9 L347.2,547.5 L348.0,547.1 L348.8,547.3 L349.6,547.6 L350.4,547.6 L351.2,547.7 L352.0,547.8 L352.8,547.8 L353.6,547.8 L354.4,547.8 L355.2,547.7 L356.0,547.7 L356.8,547.7 L357.6,547.7 L358.4,547.7 L359.2,547.7 L360.0,547.6 L360.8,547.6 L361.6,547.6 L362.4,547.6 L363.2,547.6 L364.0,547.6 L364.8,547.7 L365.6,547.7 L366.4,547.7 L367.2,547.7 L368.0,547.7 L368.8,547.8 L369.6,547.8 L370.4,547.8 L371.2,547.8 L372.0,547.8 L372.8,547.8 L373.6,547.9 L374.4,547.9 L375.2,547.9 L376.0,547.9 L376.8,547.9 L377.6,547.9 L378.4,548.0 L379.2,548.0 L380.0,548.0 L380.8,548.0 L381.6,548.0 L382.4,548.0 L383.2,548.0 L384.0,548.0 L384.8,548.0 L385.6,548.0 L386.4,548.0 L387.2,548.0 L388.0,548.0 L388.8,548.0 L389.6,548.0 L390.4,548.0 L391.2,548.0 L392.0,548.0 L392.8,548.0 L393.6,548.0 L394.4,548.0 L395.2,548.0 L396.0,548.0 L396.8,548.0 L397.6,548.0 L398.4,548.0 L399.2,548.0 L400.0,548.0 L400.8,548.0 L401.6,548.0 L402.4,548.0 L403.2,548.0 L404.0,548.0 L404.8,548.0 L405.6,548.0 L406.4,548.0 L407.2,548.0 L408.0,548.0 L408.8,548.0 L409.6,548.0 L410.4,548.0 L411.2,548.0 L412.0,548.0 L412.8,548.0 L413.6,548.0 L414.4,548.0 L415.2,548.0 L416.0,548.0 L416.8,548.0 L417.6,548.0 L418.4,548.0 L419.2,548.0 L420.0,548.0 L420.8,547.9 L421.6,547.9 L422.4,547.8 L423.2,547.8 L424.0,547.7 L424.8,547.7 L425.6,547.6 L426.4,547.6 L427.2,547.5 L428.0,547.8 L428.8,547.1 L429.6,547.1 L430.4,546.7 L431.2,546.2 L432.0,546.1 L432.8,545.6 L433.6,546.3 L434.4,546.0 L435.2,546.6 L436.0,546.2 L436.8,546.4 L437.6,547.3 L438.4,547.3 L439.2,547.2 L440.0,546.4 L440.8,546.8 L441.6,546.6 L442.4,546.8 L443.2,546.5 L444.0,546.6 L444.8,546.4 L445.6,545.9 L446.4,545.6 L447.2,544.8 L448.0,544.9 L448.8,543.5 L449.6,541.5 L450.4,538.9 L451.2,543.6 L452.0,545.2 L452.8,542.3 L453.6,540.8 L454.4,536.6 L455.2,507.5 L456.0,512.7 L456.8,533.0 L457.6,535.9 L458.4,540.2 L459.2,538.1 L460.0,540.8 L460.8,542.7 L461.6,544.1 L462.4,541.9 L463.2,541.8 L464.0,544.8 L464.8,543.0 L465.6,544.2 L466.4,544.9 L467.2,544.6 L468.0,543.4 L468.8,543.2 L469.6,545.4 L470.4,544.0 L471.2,545.6 L472.0,544.1 L472.8,545.1 L473.6,544.1 L474.4,544.1 L475.2,545.1 L476.0,543.9 L476.8,545.3 L477.6,545.6 L478.4,544.3 L479.2,545.5 L480.0,545.0 L480.8,544.6 L481.6,544.3 L482.4,545.5 L483.2,545.8 L484.0,544.2 L484.8,545.5 L485.6,544.3 L486.4,544.5 L487.2,545.6 L488.0,545.5 L488.8,545.4 L489.6,545.3 L490.4,545.4 L491.2,545.6 L492.0,545.6 L492.8,545.2 L493.6,545.9 L494.4,546.1 L495.2,545.8 L496.0,546.5 L496.8,546.5 L497.6,545.7 L498.4,546.3 L499.2,546.3 L500.0,547.1 L500.8,546.6 L501.6,546.5 L502.4,547.2 L503.2,546.6 L504.0,546.6 L504.8,547.3 L505.6,546.7 L506.4,546.9 L507.2,546.7 L508.0,547.1 L508.8,546.8 L509.6,546.8 L510.4,547.5 L511.2,547.5 L512.0,547.0 L512.8,546.9 L513.6,547.5 L514.4,547.4 L515.2,547.4 L516.0,547.6 L516.8,547.5 L517.6,547.6 L518.4,547.7 L519.2,547.7 L520.0,547.8 L520.8,547.8 L521.6,547.8 L522.4,547.8 L523.2,547.8 L524.0,547.8 L524.8,547.8 L525.6,547.8 L526.4,547.8 L527.2,547.9 L528.0,547.9 L528.8,547.9 L529.6,547.9 L530.4,547.9 L531.2,547.9 L532.0,547.9 L532.8,547.9 L533.6,547.9 L534.4,547.7 L535.2,547.5 L536.0,547.3 L536.8,547.0 L537.6,546.9 L538.4,547.4 L539.2,547.6 L540.0,547.8 L540.8,547.8 L541.6,547.8 L542.4,547.8 L543.2,547.8 L544.0,547.8 L544.8,547.8 L545.6,547.8 L546.4,547.8 L547.2,547.8 L548.0,547.8 L548.8,547.8 L549.6,547.8 L550.4,547.8 L551.2,547.8 L552.0,547.8 L552.8,547.8 L553.6,547.8 L554.4,547.8 L555.2,547.8 L556.0,547.8 L556.8,547.8 L557.6,547.8 L558.4,547.8 L559.2,547.8 L560.0,547.8 L560.8,547.8 L561.6,547.8 L562.4,547.8 L563.2,547.8 L564.0,547.8 L564.8,547.8 L565.6,547.3 L566.4,547.4 L567.2,546.5 L568.0,545.8 L568.8,546.5 L569.6,546.8 L570.4,546.4 L571.2,547.2 L572.0,547.4 L572.8,547.0 L573.6,546.6 L574.4,547.1 L575.2,546.7 L576.0,546.6 L576.8,546.1 L577.6,546.6 L578.4,546.3 L579.2,547.1 L580.0,547.0 L580.8,546.9 L581.6,546.8 L582.4,547.3 L583.2,547.6 L584.0,547.5 L584.8,547.7 L585.6,547.8 L586.4,547.9 L587.2,547.9 L588.0,547.9 L588.8,547.9 L589.6,547.9 L590.4,547.9 L591.2,547.9 L592.0,547.9 L592.8,547.9 L593.6,547.9 L594.4,547.9 L595.2,547.9 L596.0,547.9 L596.8,547.9 L597.6,547.9 L598.4,547.9 L599.2,547.9 L600.0,547.9 L600.8,547.9 L601.6,547.9 L602.4,547.9 L603.2,547.9 L604.0,547.9 L604.8,547.9 L605.6,547.9 L606.4,547.9 L607.2,547.9 L608.0,547.9 L608.8,547.9 L609.6,547.9 L610.4,547.9 L611.2,547.9 L612.0,547.9 L612.8,547.9 L613.6,547.9 L614.4,547.9 L615.2,548.0 L616.0,548.0 L616.8,548.0 L617.6,548.0 L618.4,548.0 L619.2,548.0 L620.0,548.0 L620.8,548.0 L621.6,548.0 L622.4,548.0 L623.2,548.0 L624.0,548.0 L624.8,548.0 L625.6,548.0 L626.4,548.0 L627.2,548.0 L628.0,548.0 L628.8,548.0 L629.6,548.0 L630.4,548.0 L631.2,548.0 L632.0,548.0 L632.8,548.0 L633.6,548.0 L634.4,548.0 L635.2,548.0 L636.0,548.0 L636.8,548.0 L637.6,548.0 L638.4,548.0 L639.2,548.0 L640.0,548.0 L640.8,548.0 L641.6,548.0 L642.4,548.0 L643.2,548.0 L644.0,548.0 L644.8,548.0 L645.6,548.0 L646.4,548.0 L647.2,548.0 L648.0,548.0 L648.8,548.0 L649.6,548.0 L650.4,548.0 L651.2,548.0 L652.0,548.0 L652.8,548.0 L653.6,548.0 L654.4,548.0 L655.2,548.0 L656.0,548.0 L656.8,548.0 L657.6,548.0 L658.4,548.0 L659.2,548.0 L660.0,548.0 L660.8,548.0 L661.6,548.0 L662.4,548.0 L663.2,548.0 L664.0,548.0 L664.8,548.0 L665.6,548.0 L666.4,548.0 L667.2,548.0 L668.0,548.0 L668.8,548.0 L669.6,548.0 L670.4,548.0 L671.2,548.0 L672.0,548.1 L672.8,548.1 L673.6,548.1 L674.4,548.1 L675.2,548.1 L676.0,548.1 L676.8,548.1 L677.6,548.1 L678.4,548.1 L679.2,548.1 L680.0,548.1 L680.8,548.1 L681.6,548.1 L682.4,548.1 L683.2,548.1 L684.0,548.1 L684.8,548.1 L685.6,548.1 L686.4,548.1 L687.2,548.1 L688.0,548.1 L688.8,548.1 L689.6,548.1 L690.4,548.1 L691.2,548.1 L692.0,548.1 L692.8,548.1 L693.6,548.1 L694.4,548.1 L695.2,548.1 L696.0,548.1 L696.8,548.1 L697.6,548.1 L698.4,548.1 L699.2,548.1 L700.0,548.1 L700.8,548.1 L701.6,548.1 L702.4,548.1 L703.2,548.1 L704.0,548.1 L704.8,548.1 L705.6,548.1 L706.4,548.1 L707.2,548.1 L708.0,548.1 L708.8,548.1 L709.6,548.1 L710.4,548.1 L711.2,548.1 L712.0,548.1 L712.8,548.1 L713.6,548.1 L714.4,548.1 L715.2,548.1 L716.0,548.1 L716.8,548.1 L717.6,548.1 L718.4,548.1 L719.2,548.1 L720.0,548.1 L720.8,548.1 L721.6,548.1 L722.4,548.1 L723.2,548.1 L724.0,548.1 L724.8,548.1 L725.6,548.1 L726.4,548.1 L727.2,548.1 L728.0,548.1 L728.8,548.1 L729.6,548.1 L730.4,548.1 L731.2,548.1 L732.0,548.1 L732.8,548.1 L733.6,548.1 L734.4,548.1 L735.2,548.1 L736.0,548.1 L736.8,548.1 L737.6,548.1 L738.4,548.1 L739.2,548.1 L740.0,548.1 L740.8,548.1 L741.6,548.1 L742.4,548.1 L743.2,548.1 L744.0,548.1 L744.8,548.1 L745.6,548.1 L746.4,548.1 L747.2,548.1 L748.0,548.1 L748.8,548.1 L749.6,548.1 L750.4,548.1 L751.2,548.1 L752.0,548.1 L752.8,548.1 L753.6,548.1 L754.4,548.1 L755.2,548.1 L756.0,548.1 L756.8,548.1 L757.6,548.1 L758.4,548.1 L759.2,548.1 L760.0,548.1 L760.8,548.1 L761.6,548.1 L762.4,548.1 L763.2,548.1 L764.0,548.1 L764.8,548.1 L765.6,548.1 L766.4,548.1 L767.2,548.1 L768.0,548.1 L768.8,548.1 L769.6,548.1 L770.4,548.1 L771.2,548.1 L772.0,548.1 L772.8,548.1 L773.6,548.2 L774.4,548.2 L775.2,548.2 L776.0,548.2 L776.8,548.2 L777.6,548.2 L778.4,548.2 L779.2,548.2 L780.0,548.2 L780.8,548.2 L781.6,548.2 L782.4,548.2 L783.2,548.2 L784.0,548.2 L784.8,548.2 L785.6,548.2 L786.4,548.2 L787.2,548.2 L788.0,548.2 L788.8,548.2 L789.6,548.2 L790.4,548.2 L791.2,548.2 L792.0,548.2 L792.8,548.2 L793.6,548.2 L794.4,548.2 L795.2,548.2 L796.0,548.2 L796.8,548.2 L797.6,548.2 L798.4,548.2 L799.2,548.2 L800.0,548.2 L800.8,548.2 L801.6,548.2 L802.4,548.2 L803.2,548.2 L804.0,548.2 L804.8,548.2 L805.6,548.2 L806.4,548.2 L807.2,548.2 L808.0,548.2 L808.8,548.2 L809.6,548.2 L810.4,548.2 L811.2,548.2 L812.0,548.2 L812.8,548.2 L813.6,548.2 L814.4,548.2 L815.2,548.2 L816.0,548.2 L816.8,548.2 L817.6,548.2 L818.4,548.2 L819.2,548.2 L820.0,548.2 L820.8,548.2 L821.6,548.2 L822.4,548.2 L823.2,548.2 L824.0,548.2 L824.8,548.2 L825.6,548.2 L826.4,548.2 L827.2,548.2 L828.0,548.2 L828.8,548.2 L829.6,548.2 L830.4,548.2 L831.2,548.2 L832.0,548.2 L832.8,548.2 L833.6,548.2 L834.4,548.2 L835.2,548.2 L836.0,548.2 L836.8,548.2 L837.6,548.2 L838.4,548.2 L839.2,548.2 L840.0,548.2 L840.8,548.2 L841.6,548.2 L842.4,548.2 L843.2,548.2 L844.0,548.2 L844.8,548.2 L845.6,548.2 L846.4,548.2 L847,548.5 Z"/><rect x="454.9" y="492.5" width="1.1" height="56"/><rect x="455.8" y="520" width="0.9" height="28"/></g>
<g stroke="#edeff2" stroke-width="1">
<line x1="12" x2="847" y1="548.5" y2="548.5"/>
<line x1="83" x2="83" y1="548.5" y2="559"/><line x1="175.6" x2="175.6" y1="548.5" y2="559"/><line x1="268.3" x2="268.3" y1="548.5" y2="559"/><line x1="360.9" x2="360.9" y1="548.5" y2="559"/><line x1="453.4" x2="453.4" y1="548.5" y2="559"/><line x1="546.3" x2="546.3" y1="548.5" y2="559"/><line x1="638.8" x2="638.8" y1="548.5" y2="559"/><line x1="731.3" x2="731.3" y1="548.5" y2="559"/><line x1="823.9" x2="823.9" y1="548.5" y2="559"/>
</g>
<!-- coingecko logo -->
<g>
<circle cx="736" cy="415.8" r="12.3" fill="#fdeb8c" fill-opacity="0.72"/>
<path d="M729.9,410.4 C730.8,409.5 731.6,409.1 732.5,409 C734,408.8 735.6,409 737.1,409.3 C738.5,409.5 739.8,409.9 741.1,410.4 C742.1,410.8 743.1,411.4 743.8,412.2 C744.5,412.9 745,413.6 744.9,414.5 C744.7,415.6 744.2,416.4 743.5,417.1 C742.8,417.9 741.8,418.4 741.1,419.1 C740.4,419.9 740,420.8 739.7,421.7 C739.3,422.7 739.1,423.6 738.8,424.6 C738.5,425.6 738.2,426.7 737.7,427.5 C737.1,428.2 736.2,428.2 735.4,428.1 C734,427.9 732.6,427.5 731.3,426.9 C730,426.4 728.8,425.8 727.8,424.9 C726.9,424.2 726.1,423.3 725.8,422.3 C725.5,420.6 725.9,418.8 726.4,417.1 C726.7,415.7 727,414.3 727.5,413 C728,411.9 728.9,411.1 729.9,410.4 Z" fill="#8fdb6a" fill-opacity="0.92"/>
<circle cx="733.4" cy="412.5" r="2.1" fill="#fff"/>
<circle cx="734.5" cy="412.5" r="1.15" fill="#4d5d4d"/>
</g>
</svg>
<div class="yl" style="top:30px;letter-spacing:-0.22px">$150.00</div><div class="yl" style="top:98px;letter-spacing:-0.22px">$125.00</div><div class="yl" style="top:164px;letter-spacing:-0.22px">$100.00</div><div class="yl" style="top:232px;letter-spacing:0.05px">$75.00</div><div class="yl" style="top:299px;letter-spacing:0.15px">$50.00</div><div class="yl" style="top:365px;letter-spacing:0.1px">$25.00</div><div class="yl" style="top:434px;letter-spacing:0.2px">$0</div>
<div class="xl" style="left:43.34px;letter-spacing:0.08px">May '17</div><div class="xl" style="left:135.73px;letter-spacing:0.27px">May '18</div><div class="xl" style="left:228.43px;letter-spacing:0.27px">May '19</div><div class="xl" style="left:321.51px;letter-spacing:0.82px">May '20</div><div class="xl" style="left:413.95px;letter-spacing:0.3px">May '21</div><div class="xl" style="left:506.59px;letter-spacing:0.78px">May '22</div><div class="xl" style="left:599.01px;letter-spacing:0.82px">May '23</div><div class="xl" style="left:691.63px;letter-spacing:0.87px">May '24</div><div class="xl" style="left:784.17px;letter-spacing:0.73px">May '25</div>
<div class="cg">coingecko</div>
</body></html>
